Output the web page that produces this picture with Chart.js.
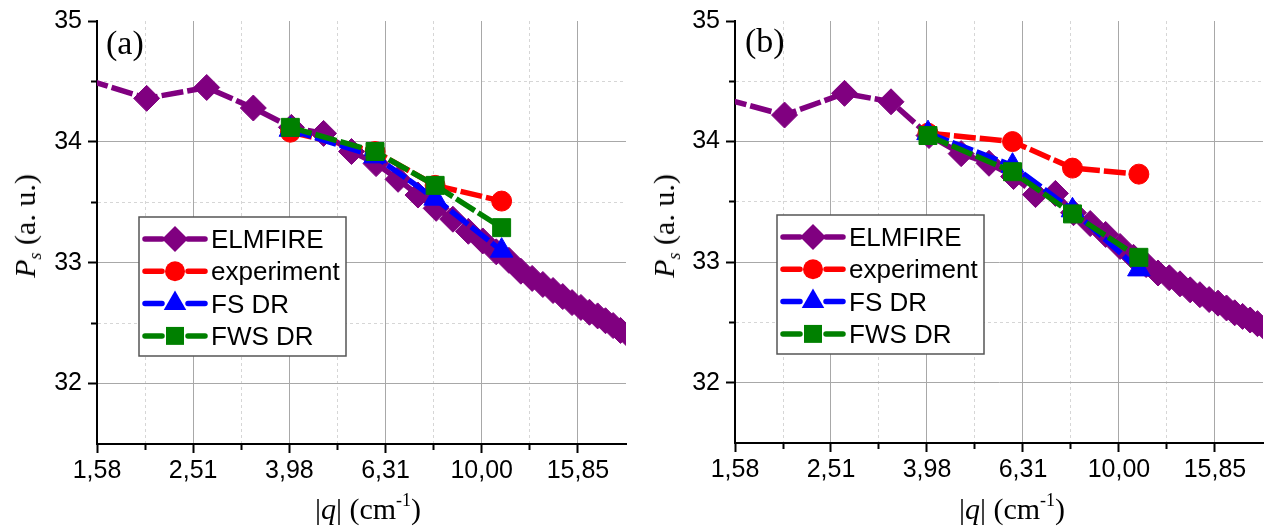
<!DOCTYPE html>
<html lang="en">
<head>
  <meta charset="UTF-8">
  <title>Ps versus |q| - ELMFIRE, experiment, FS DR, FWS DR</title>
  <script src="https://cdn.jsdelivr.net/npm/chart.js"></script>
  <style>
    body { margin: 0; background: #fff; }
    #wrap { position: relative; width: 1283px; height: 532px; overflow: hidden; background: #fff; }
    .panel { position: absolute; top: 0; }
    .serif { position: absolute; font-family: "Liberation Serif", "Times New Roman", serif; color: #000; white-space: nowrap; line-height: 1; }
    .ytitle { font-size: 30px; transform: translate(-50%, -50%) rotate(-90deg); }
    .xtitle { font-size: 30px; transform: translateX(-50%); }
    .tag { font-size: 34px; }
    .serif sup { font-size: 60%; line-height: 0; vertical-align: 0.75em; }
    .serif sub { font-size: 60%; line-height: 0; vertical-align: -0.35em; }
  </style>
</head>
<body>
<div id="wrap">
  <canvas id="panelA" class="panel" style="left:0" width="640" height="532"></canvas>
  <canvas id="panelB" class="panel" style="left:640px" width="643" height="532"></canvas>

  <div class="serif tag" style="left:106px;top:26px">(a)</div>
  <div class="serif tag" style="left:745px;top:24px">(b)</div>

  <div class="serif ytitle" style="left:25px;top:226px"><i>P</i><sub><i>s</i></sub> (a. u.)</div>
  <div class="serif ytitle" style="left:664px;top:226px"><i>P</i><sub><i>s</i></sub> (a. u.)</div>

  <div class="serif xtitle" style="left:368px;top:494px">|<i>q</i>| (cm<sup>-1</sup>)</div>
  <div class="serif xtitle" style="left:1012px;top:494px">|<i>q</i>| (cm<sup>-1</sup>)</div>
</div>

<script>
  // ELMFIRE wavenumbers |q| (cm^-1), shared by both panels
  const elmQ = [1.34, 2.01, 2.68, 3.35, 4.02, 4.69, 5.36, 6.03, 6.70, 7.37,
                8.04, 8.71, 9.38, 10.05, 10.72, 11.39, 12.06, 12.73, 13.40, 14.07,
                14.74, 15.41, 16.08, 16.75, 17.42, 18.09, 18.76, 19.43, 20.10];
  const elmA = [34.58, 34.36, 34.45, 34.28, 34.12, 34.07, 33.92, 33.82, 33.69, 33.56,
                33.45, 33.36, 33.26, 33.18, 33.09, 33.02, 32.93, 32.87, 32.82, 32.77,
                32.72, 32.67, 32.63, 32.59, 32.56, 32.52, 32.48, 32.44, 32.41];
  const elmB = [34.41, 34.22, 34.40, 34.33, 34.05, 33.90, 33.82, 33.71, 33.56, 33.57,
                33.41, 33.32, 33.23, 33.13, 33.04, 32.98, 32.91, 32.87, 32.82, 32.77,
                32.73, 32.69, 32.66, 32.62, 32.58, 32.55, 32.52, 32.49, 32.46];

  // measured / dispersion-relation points
  const measQ = [4, 6, 8, 11];
  const expA = [34.08, 33.92, 33.64, 33.51];
  const fsA  = [34.10, 33.88, 33.53, 33.10];
  const fwsA = [34.12, 33.92, 33.64, 33.29];
  const expB = [34.07, 34.00, 33.78, 33.73];
  const fsB  = [34.07, 33.80, 33.43, 32.94];
  const fwsB = [34.05, 33.75, 33.40, 33.04];

  // axes
  const xMin = 1.5849, xMax = 19.953;
  const xTickVals = [1.5849, 2.5119, 3.9811, 6.3096, 10, 15.849];
  const xTickLabels = ['1,58', '2,51', '3,98', '6,31', '10,00', '15,85'];
  const xMinorVals = [1.9953, 3.1623, 5.0119, 7.9433, 12.589];
  const yMin = 31.5, yMax = 35;
  const yTickVals = [32, 33, 34, 35];
  const yMinorVals = [32.5, 33.5, 34.5];

  const names = ['ELMFIRE', 'experiment', 'FS DR', 'FWS DR'];
  const colors = ['#800080', '#ff0000', '#0000ff', '#008000'];
  const shapes = ['rectRot', 'circle', 'triangle', 'rect'];
  const radii = [13, 10, 13, 12.7];

  function drawShape(ctx, shape, x, y, r) {
    ctx.beginPath();
    if (shape === 'circle') {
      ctx.arc(x, y, r, 0, Math.PI * 2);
    } else if (shape === 'rectRot') {
      ctx.moveTo(x - r, y); ctx.lineTo(x, y - r); ctx.lineTo(x + r, y); ctx.lineTo(x, y + r);
    } else if (shape === 'triangle') {
      const w = r * Math.sin(Math.PI / 3);
      ctx.moveTo(x, y - r); ctx.lineTo(x + w, y + r / 2); ctx.lineTo(x - w, y + r / 2);
    } else {
      const s = r * Math.SQRT1_2;
      ctx.rect(x - s, y - s, 2 * s, 2 * s);
    }
    ctx.closePath();
    ctx.fill();
  }

  // legend box drawn inside the plot
  function boxLegend(left, top) {
    return {
      id: 'boxLegend',
      afterDatasetsDraw(chart) {
        const ctx = chart.ctx;
        ctx.save();
        ctx.fillStyle = '#fff';
        ctx.fillRect(left, top, 207, 139);
        ctx.strokeStyle = '#555';
        ctx.lineWidth = 1.5;
        ctx.strokeRect(left, top, 207, 139);
        ctx.font = '26px "Liberation Sans", Arial, sans-serif';
        ctx.textBaseline = 'alphabetic';
        names.forEach((name, i) => {
          const y = top + 22 + i * 32.3;
          ctx.strokeStyle = colors[i];
          ctx.fillStyle = colors[i];
          ctx.lineWidth = 5.5;
          ctx.lineCap = 'round';
          ctx.beginPath();
          ctx.moveTo(left + 6, y); ctx.lineTo(left + 23, y);
          ctx.moveTo(left + 49, y); ctx.lineTo(left + 66, y);
          ctx.stroke();
          drawShape(ctx, shapes[i], left + 36, y, radii[i]);
          ctx.fillStyle = '#000';
          ctx.fillText(name, left + 72, y + 9);
        });
        ctx.restore();
      }
    };
  }

  const isMinor = c => c.tick && c.tick.minor;

  function makePanel(id, elmY, expY, fsY, fwsY, yWidth, pad, legendPos) {
    const pairs = [[elmQ, elmY], [measQ, expY], [measQ, fsY], [measQ, fwsY]];
    const datasets = pairs.map(([xs, ys], i) => ({
      label: names[i],
      data: xs.map((q, k) => ({ x: q, y: ys[k] })),
      borderColor: colors[i],
      backgroundColor: colors[i],
      borderWidth: 5.5,
      borderDash: [22, 4],
      pointStyle: shapes[i],
      pointRadius: radii[i],
      pointHoverRadius: radii[i],
      pointBorderWidth: 1,
      pointBackgroundColor: colors[i],
      pointBorderColor: colors[i],
      tension: 0,
      order: 4 - i,
      clip: 0
    }));

    const tickFont = { family: '"Liberation Sans", Arial, sans-serif', size: 25 };

    return new Chart(document.getElementById(id), {
      type: 'line',
      data: { datasets },
      options: {
        responsive: false,
        animation: false,
        events: [],
        devicePixelRatio: 1,
        layout: { padding: pad },
        plugins: { legend: { display: false }, tooltip: { enabled: false } },
        scales: {
          x: {
            type: 'logarithmic',
            min: xMin,
            max: xMax,
            afterBuildTicks: s => {
              s.ticks = xTickVals.concat(xMinorVals).sort((a, b) => a - b)
                .map(v => ({ value: v, minor: xMinorVals.includes(v) }));
            },
            afterFit: s => { s.height = 60; },
            ticks: {
              autoSkip: false, maxRotation: 0, padding: 3, color: '#000', font: tickFont,
              callback: v => { const k = xTickVals.indexOf(v); return k < 0 ? '' : xTickLabels[k]; }
            },
            grid: {
              color: c => isMinor(c) ? '#d6d6d6' : '#a8a8a8',
              lineWidth: 1,
              tickLength: 9,
              tickColor: '#000',
              tickWidth: 2,
              tickBorderDash: c => isMinor(c) ? [5, 100] : []
            },
            border: { color: '#000', width: 2, dash: c => isMinor(c) ? [3, 3] : [] }
          },
          y: {
            min: yMin,
            max: yMax,
            afterBuildTicks: s => {
              s.ticks = yTickVals.concat(yMinorVals).sort((a, b) => a - b)
                .map(v => ({ value: v, minor: yMinorVals.includes(v) }));
            },
            afterFit: s => { s.width = yWidth; },
            ticks: {
              autoSkip: false, padding: 6, color: '#000', font: tickFont,
              callback: v => yTickVals.includes(v) ? String(v) : ''
            },
            grid: {
              color: c => (c.tick && c.tick.value === yMax) ? 'rgba(0,0,0,0)' : (isMinor(c) ? '#d6d6d6' : '#a8a8a8'),
              lineWidth: 1,
              tickLength: 9,
              tickColor: '#000',
              tickWidth: 2,
              tickBorderDash: c => isMinor(c) ? [0, 3, 5, 100] : []
            },
            border: { color: '#000', width: 2, dash: c => isMinor(c) ? [3, 3] : [] }
          }
        }
      },
      plugins: [boxLegend(legendPos[0], legendPos[1])]
    });
  }

  makePanel('panelA', elmA, expA, fsA, fwsA, 97, { left: 0, right: 13, top: 18, bottom: 28 }, [139, 217]);
  makePanel('panelB', elmB, expB, fsB, fwsB, 95, { left: 0, right: 20, top: 16, bottom: 29 }, [137, 215]);
</script>
</body>
</html>
